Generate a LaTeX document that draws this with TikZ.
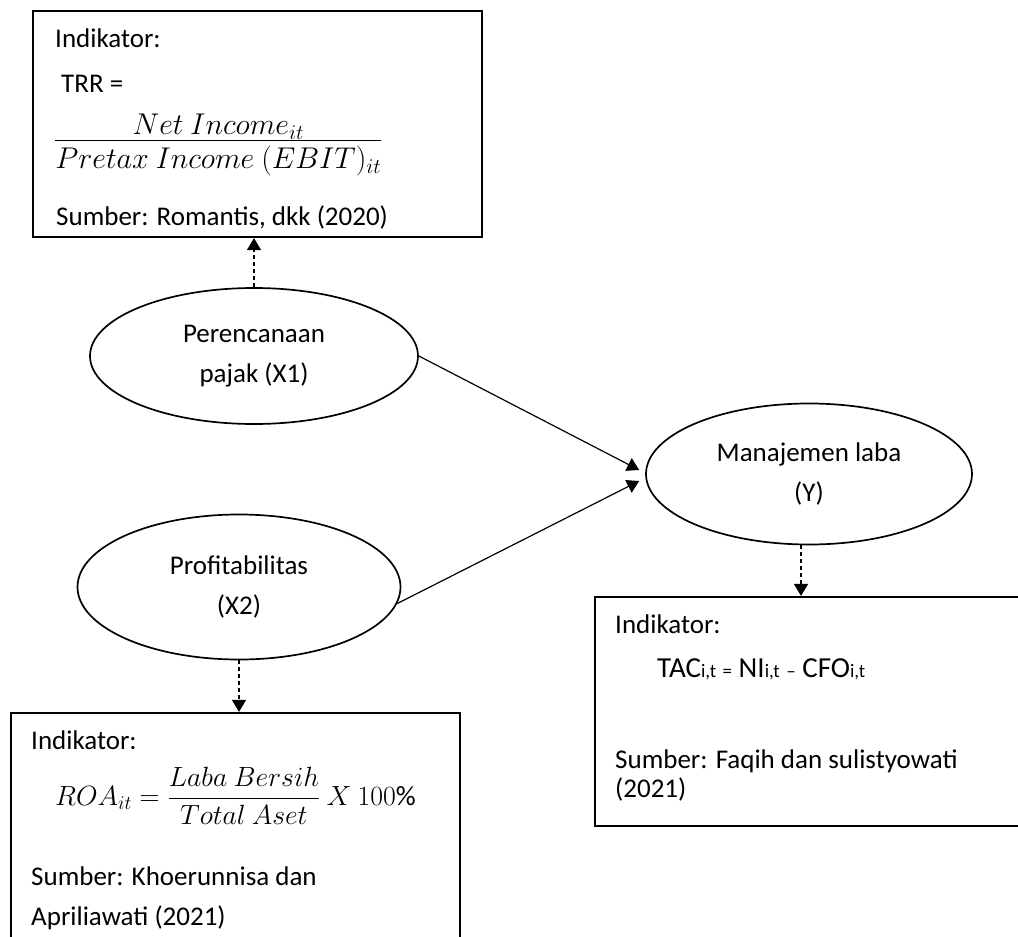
\documentclass[tikz,border=0pt]{standalone}
\usepackage{fix-cm}
\usepackage{fontspec}
\setmainfont{Carlito}
\usetikzlibrary{shapes.geometric,arrows.meta,positioning}
\newcommand{\smallpart}[1]{{\fontsize{19}{21}\selectfont #1}}

\begin{document}
\begin{tikzpicture}[x=1pt,y=-1pt,>={Triangle[length=12pt,width=14pt]},
  var/.style={ellipse,draw,line width=1.7pt,minimum width=328pt,minimum height=142pt,align=center,font=\fontsize{27}{40}\selectfont},
  ind/.style={draw,line width=2.2pt,rectangle},
  txt/.style={anchor=base west,inner sep=0pt,font=\fontsize{27}{32}\selectfont},
  link/.style={->,line width=1.2pt},
  dotlink/.style={->,line width=1.2pt,dash pattern=on 4pt off 3pt}]
\useasboundingbox (0,0) rectangle (1018,937);

\node[ind,minimum width=449pt,minimum height=226pt] (indA) at (257.5,124) {};
\node[ind,minimum width=449pt,minimum height=260pt] (indB) at (235.5,843) {};
\node[ind,minimum width=470pt,minimum height=229pt] (indC) at (830,711.5) {};

\node[var,minimum height=136pt] (x1) at (254,356) {Perencanaan\\pajak (X1)};
\node[var,minimum width=323pt,minimum height=145pt] (x2) at (239,587) {Profitabilitas\\(X2)};
\node[var,minimum width=326pt,minimum height=141pt] (y) at (809,474) {Manajemen laba\\(Y)};

\node[txt] (a1) at (55,47) {Indikator:};
\node[txt] (a2) at (61,92) {TRR =};
\node[txt,font=\fontsize{30}{34}\selectfont] (a3) at (54,147.5) {$\frac{\textstyle Net\ Income_{it}}{\textstyle\rule{0pt}{28pt}Pretax\ Income\ (EBIT)_{it}}$};
\node[txt] (a4) at (56,225) {Sumber: Romantis, dkk (2020)};

\node[txt] (b1) at (31,749) {Indikator:};
\node[txt,font=\fontsize{27.8}{32}\selectfont] (b2) at (55,805) {$\displaystyle ROA_{it}=\frac{Laba\ Bersih}{\rule{0pt}{24pt}Total\ Aset}\ X\ 100\mathchar"0025$};
\node[txt] (b3) at (31,885) {Sumber: Khoerunnisa dan};
\node[txt] (b4) at (31,925) {Apriliawati (2021)};

\node[txt] (c1) at (615,633) {Indikator:};
\node[txt,font=\fontsize{29}{30}\selectfont] (c2) at (657,677) {TAC\smallpart{i,t} \smallpart{=} NI\smallpart{i,t} \smallpart{--} CFO\smallpart{i,t}};
\node[txt] (c3) at (615,768) {Sumber: Faqih dan sulistyowati};
\node[txt] (c4) at (615,797) {(2021)};

\draw[link] (x1.east) -- ([xshift=-6pt,yshift=4pt]y.west);
\draw[link] (x2.-6) -- ([xshift=-6pt,yshift=-7pt]y.west);
\draw[dotlink] (x1.north) -- (x1.north |- indA.south);
\draw[dotlink] (x2.south) -- (x2.south |- indB.north);
\draw[dotlink] ([xshift=-8pt]y.south) -- ([xshift=-8pt]y.south |- indC.north);
\end{tikzpicture}
\end{document}
